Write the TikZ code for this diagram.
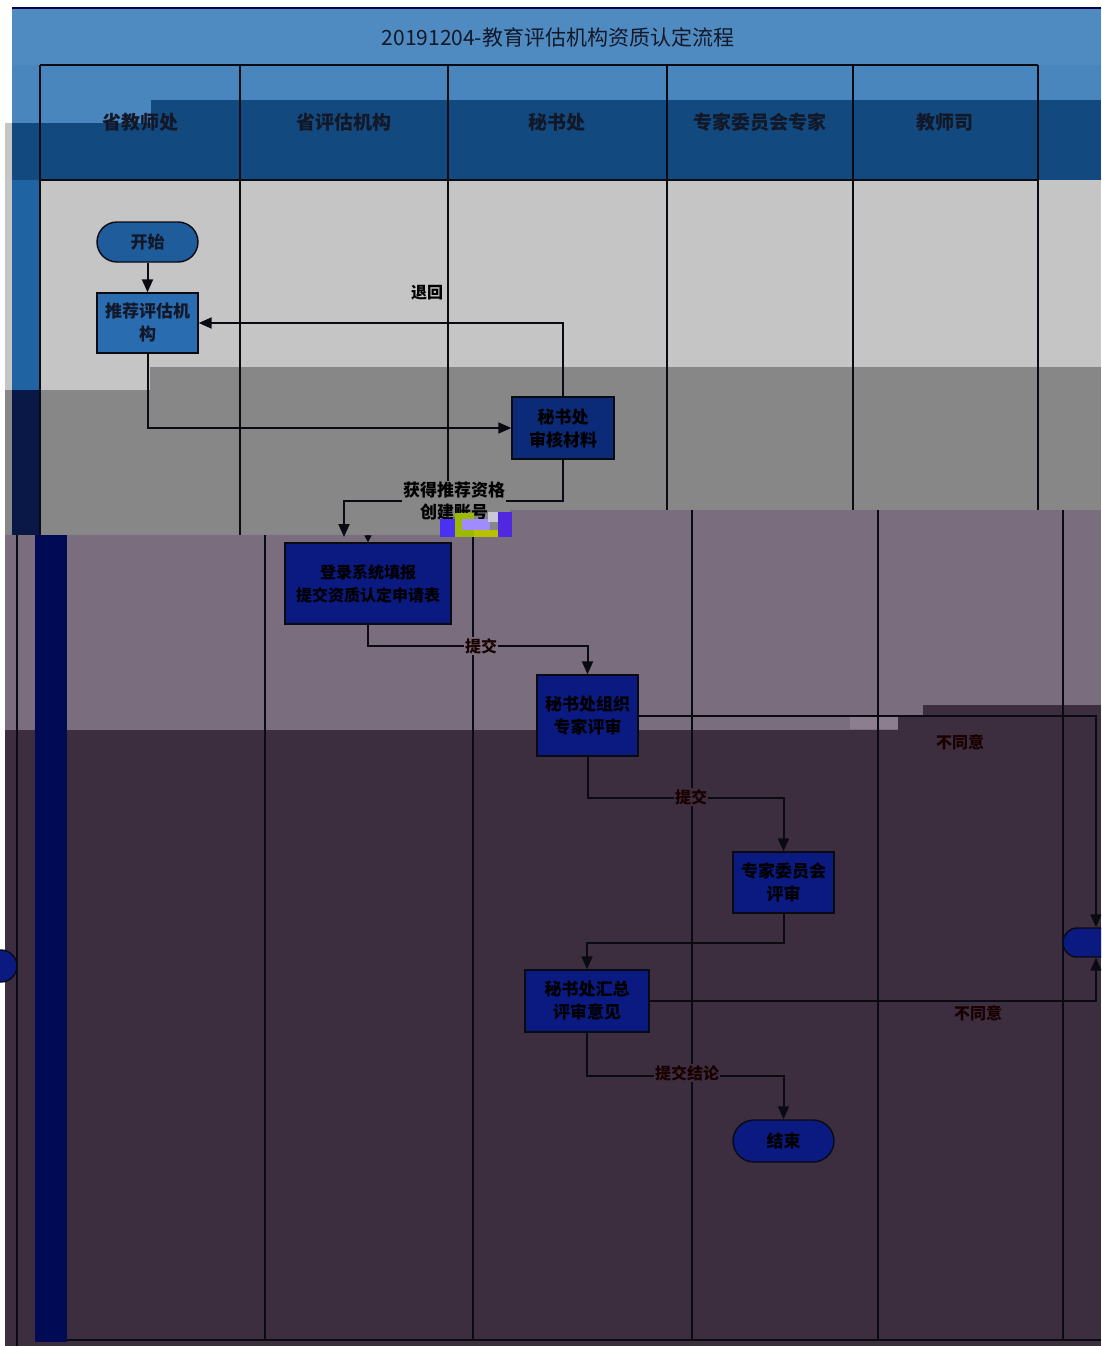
\documentclass[tikz,border=0pt]{standalone}
\usepackage{fontspec}
\newfontfamily\cjk{Noto Sans CJK SC}
\usetikzlibrary{arrows.meta,calc}
\definecolor{titleblue}{HTML}{4F8BC1}
\definecolor{hdrlight}{HTML}{4A86BE}
\definecolor{hdrdark}{HTML}{124A7F}
\definecolor{stripblue}{HTML}{1F63A3}
\definecolor{stripnavy}{HTML}{0A1848}
\definecolor{lgray}{HTML}{C5C5C5}
\definecolor{mgray}{HTML}{878787}
\definecolor{mauve}{HTML}{7A6D7D}
\definecolor{pmauve}{HTML}{8C7E8E}
\definecolor{dpurple}{HTML}{3C2D3F}
\definecolor{barnavy}{HTML}{000A55}
\definecolor{startblue}{HTML}{1F5C9C}
\definecolor{recblue}{HTML}{2A6CB0}
\definecolor{secnavy}{HTML}{0B2A78}
\definecolor{boxnavy}{HTML}{0A1A80}
\definecolor{lanetext}{HTML}{121828}
\definecolor{linecol}{HTML}{0A0A12}
\definecolor{gA}{HTML}{4A30F0}
\definecolor{gB}{HTML}{9DB800}
\definecolor{gC}{HTML}{A08CFF}
\definecolor{gD}{HTML}{B8C000}
\definecolor{gE}{HTML}{C8C8D8}
\definecolor{gF}{HTML}{5028E0}
\tikzset{
  lanehead/.style={font=\cjk\bfseries\fontsize{19}{22}\selectfont, text=lanetext, anchor=center},
  proc/.style={draw=linecol, line width=1.4pt, inner sep=0pt, align=center,
     font=\cjk\bfseries\fontsize{17}{23}\selectfont},
  term/.style={proc, rounded corners=#1},
  dark/.style={fill=boxnavy, text=black},
  flow/.style={draw=linecol, line width=2pt, -{Triangle[length=13pt,width=11pt]}},
  lane/.style={draw=linecol, line width=2.2pt},
  lbl/.style={font=\cjk\bfseries\fontsize{16}{22}\selectfont, inner sep=1pt, align=center},
}
\begin{document}
\begin{tikzpicture}[x=1pt,y=-1pt]
\useasboundingbox (0,0) rectangle (1101,1346);
\clip (0,0) rectangle (1101,1346);
% ---------- backgrounds ----------
\fill[white] (0,0) rectangle (1101,1346);
\fill[titleblue] (12,8) rectangle (1101,65);
\draw[draw=black!70!blue, line width=1.5pt] (12,8) -- (1101,8);
\fill[hdrlight] (12,65) rectangle (1101,100);
\fill[hdrlight] (12,100) rectangle (151,123);
\fill[hdrdark] (151,100) rectangle (1101,180);
\fill[hdrdark] (12,123) rectangle (151,180);
\fill[lgray] (5,123) rectangle (12,390);
\fill[mgray] (5,390) rectangle (12,535);
\fill[stripblue] (12,180) rectangle (40,390);
\fill[stripnavy] (12,390) rectangle (40,535);
\fill[lgray] (40,180) rectangle (1101,367);
\fill[lgray] (40,367) rectangle (150,390);
\fill[mgray] (150,367) rectangle (1101,510);
\fill[mgray] (40,390) rectangle (510,535);
% lower (shifted) part
\fill[mauve] (5,535) rectangle (510,730);
\fill[mauve] (510,510) rectangle (1101,730);
\fill[pmauve] (850,717) rectangle (898,729);
\fill[dpurple] (5,730) rectangle (1101,1346);
\fill[dpurple] (898,717) rectangle (923,730);
\fill[dpurple] (923,705) rectangle (1101,730);
\fill[barnavy] (35,535) rectangle (67,1342);
% ---------- lane lines ----------
\draw[lane] (40,65) -- (1038,65);
\draw[lane] (40,180) -- (1038,180);
\draw[lane] (40,65) -- (40,535);
\draw[lane] (240,65) -- (240,535);
\draw[lane] (448,65) -- (448,535);
\draw[lane] (667,65) -- (667,510);
\draw[lane] (853,65) -- (853,510);
\draw[lane] (1038,65) -- (1038,510);
\draw[lane, line width=1.6pt] (17,535) -- (17,1346);
\draw[lane] (265,535) -- (265,1340);
\draw[lane] (473,512) -- (473,1340);
\draw[lane] (692,510) -- (692,1340);
\draw[lane] (878,510) -- (878,1340);
\draw[lane] (1063,510) -- (1063,1340);
\draw[lane] (67,1340) -- (1101,1340);
% ---------- titles ----------
\node[font=\cjk\fontsize{21}{24}\selectfont, text=lanetext] (title) at (558,37) {20191204-教育评估机构资质认定流程};
\node[lanehead] (h1) at (140,122) {省教师处};
\node[lanehead] (h2) at (344,122) {省评估机构};
\node[lanehead] (h3) at (557,122) {秘书处};
\node[lanehead] (h4) at (760,122) {专家委员会专家};
\node[lanehead] (h5) at (945,122) {教师司};
% ---------- nodes ----------
\node[term=20pt, fill=startblue, text=lanetext, minimum width=101pt, minimum height=40pt] (start) at (147.5,242) {开始};
\node[proc, fill=recblue, text=lanetext, minimum width=101pt, minimum height=60pt] (rec) at (147.5,323) {推荐评估机\\构};
\node[proc, fill=secnavy, text=black, minimum width=102pt, minimum height=62pt] (sec1) at (563,428) {秘书处\\审核材料};
\node[proc, dark, minimum width=166pt, minimum height=81pt, font=\cjk\bfseries\fontsize{16}{23}\selectfont] (box2) at (368,583.5) {登录系统填报\\提交资质认定申请表};
\node[proc, dark, minimum width=101pt, minimum height=81pt] (box3) at (587.5,715.5) {秘书处组织\\专家评审};
\node[proc, dark, minimum width=101pt, minimum height=61pt] (box4) at (783.5,882.5) {专家委员会\\评审};
\node[proc, dark, minimum width=124pt, minimum height=62pt] (box5) at (587,1001) {秘书处汇总\\评审意见};
\node[term=21pt, dark, minimum width=101pt, minimum height=42pt] (endn) at (783.5,1141) {结束};
\node[term=14pt, dark, minimum width=66pt, minimum height=29pt] (endr) at (1096,942.5) {};
\node[term=16pt, dark, minimum width=74pt, minimum height=32pt] (leftp) at (-20,966) {};
\coordinate (acc) at (344,537);
\coordinate (stub) at (368,535);
% ---------- connectors ----------
\draw[flow] (start) -- (rec);
\draw[flow] (rec.south) |- (sec1.west);
\draw[flow] (sec1.north) |- (rec.east);
\draw[flow] (sec1.south) -- ++(0,41) -| (acc);
\draw[flow, -{Triangle[length=7pt,width=7pt]}] (stub) -- (box2.north);
\draw[flow] (box2.south) -- ++(0,21) -| (box3.north);
\draw[flow] (box3.east) -| (endr.north);
\draw[flow] (box3.south) -- ++(0,41) -| (box4.north);
\draw[flow] (box4.south) -- ++(0,29) -| (box5.north);
\draw[flow] (box5.east) -| (endr.south);
\draw[flow] (box5.south) -- ++(0,43) -| (endn.north);
% ---------- labels ----------
\node[lbl, text=black] (l1) at (427,293) {退回};
\node[lbl, fill=mgray, text=black, font=\cjk\bfseries\fontsize{17}{22}\selectfont] (l2) at (454,501) {获得推荐资格\\创建账号};
\node[lbl, fill=mauve, text=black!90!red] (l3) at (481,646) {提交};
\node[lbl, fill=dpurple, text=black!90!red] (l4) at (691,797) {提交};
\node[lbl, fill=dpurple, text=black!90!red] (l5) at (687,1073) {提交结论};
\node[lbl, text=black!90!red] (l6) at (960,742) {不同意};
\node[lbl, text=black!90!red] (l7) at (978,1013) {不同意};
% ---------- image glitch ----------
\fill[gA] (440,519) rectangle (455,537);
\fill[gB] (455,513) rectangle (474,537);
\fill[gC] (462,519) rectangle (490,530);
\fill[gD] (474,530) rectangle (500,537);
\fill[gE] (488,512) rectangle (498,522);
\fill[gF] (498,512) rectangle (512,537);
\end{tikzpicture}
\end{document}
